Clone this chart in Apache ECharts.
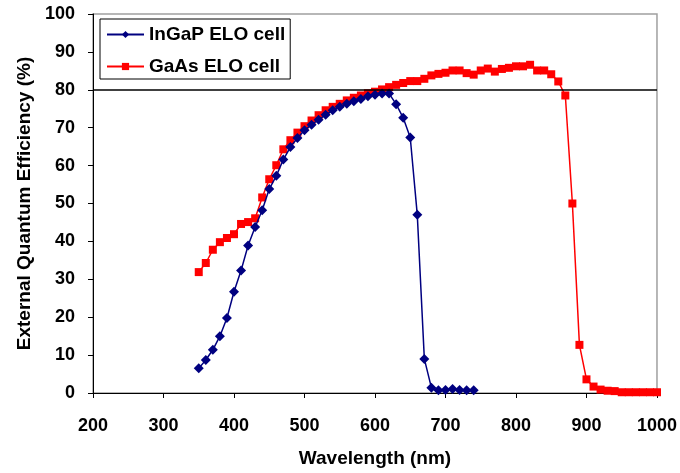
<!DOCTYPE html>
<html>
<head>
<meta charset="utf-8">
<title>EQE of ELO cells</title>
<script src="https://cdn.jsdelivr.net/npm/echarts@6/dist/echarts.min.js"></script>
<style>
  html, body { margin: 0; padding: 0; background: #fff; }
  #chart { width: 680px; height: 473px; }
</style>
</head>
<body>
<div id="chart"></div>
<script>
// wavelength (nm) / EQE (%)
const ingapWl = [350, 360, 370, 380, 390, 400, 410, 420, 430, 440,
  450, 460, 470, 480, 490, 500, 510, 520, 530, 540,
  550, 560, 570, 580, 590, 600, 610, 620, 630, 640,
  650, 660, 670, 680, 690, 700, 710, 720, 730, 740]
const ingapEqe = [6.5, 8.7, 11.4, 15.0, 19.8, 26.7, 32.3, 38.9, 43.8, 48.2,
  53.8, 57.3, 61.6, 64.9, 67.3, 69.3, 70.8, 72.1, 73.4, 74.6,
  75.5, 76.3, 77.0, 77.6, 78.3, 78.7, 79.0, 79.0, 76.2, 72.6,
  67.4, 47.0, 9.0, 1.4, 0.7, 0.8, 1.05, 0.8, 0.7, 0.7]

const gaasWl = [350, 360, 370, 380, 390, 400, 410, 420, 430, 440,
  450, 460, 470, 480, 490, 500, 510, 520, 530, 540,
  550, 560, 570, 580, 590, 600, 610, 620, 630, 640,
  650, 660, 670, 680, 690, 700, 710, 720, 730, 740,
  750, 760, 770, 780, 790, 800, 810, 820, 830, 840,
  850, 860, 870, 880, 890, 900, 910, 920, 930, 940,
  950, 960, 970, 980, 990, 1000]
const gaasEqe = [31.9, 34.3, 37.8, 39.8, 40.9, 41.9, 44.6, 45.1, 46.1, 51.6,
  56.4, 60.1, 64.3, 66.7, 68.7, 70.4, 71.9, 73.3, 74.6, 75.5,
  76.3, 77.2, 77.9, 78.5, 79.1, 79.5, 80.1, 80.7, 81.3, 81.8,
  82.3, 82.3, 82.9, 83.8, 84.2, 84.5, 85.1, 85.1, 84.4, 84.0,
  85.1, 85.6, 84.8, 85.5, 85.8, 86.2, 86.2, 86.6, 85.1, 85.1,
  84.1, 82.2, 78.5, 50.0, 12.7, 3.6, 1.7, 0.9, 0.6, 0.5,
  0.2, 0.2, 0.2, 0.2, 0.2, 0.2]

const refLine = 80

const font = 'Liberation Sans, Arial, sans-serif'

const zip = (xs, ys) => xs.map((x, i) => [x, ys[i]])

const chart = echarts.init(document.getElementById('chart'), null, { renderer: 'canvas' })

chart.setOption({
  animation: false,
  backgroundColor: '#fff',
  grid: {
    left: 93, right: 22, top: 14, bottom: 80,
    show: true, borderColor: '#a0a0a0', borderWidth: 1.5
  },
  legend: {
    left: 100, top: 19,
    orient: 'vertical',
    backgroundColor: '#fff',
    borderColor: '#000', borderWidth: 1,
    borderRadius: 0,
    padding: [6, 5, 3, 6],
    itemWidth: 37, itemHeight: 9, itemGap: 13,
    textStyle: { fontFamily: font, fontWeight: 'bold', fontSize: 19, color: '#000', padding: [0, 0, 0, 0] }
  },
  xAxis: {
    type: 'value', min: 200, max: 1000, interval: 100,
    name: 'Wavelength (nm)', nameLocation: 'middle', nameGap: 56,
    nameTextStyle: { fontFamily: font, fontWeight: 'bold', fontSize: 19, color: '#000' },
    axisLine: { lineStyle: { color: '#000', width: 1 } },
    axisTick: { show: true, length: 5, lineStyle: { color: '#000' } },
    axisLabel: {
      margin: 24, fontFamily: font, fontWeight: 'bold', fontSize: 18, color: '#000',
      formatter: (v) => String(v)
    },
    splitLine: { show: false }
  },
  yAxis: {
    type: 'value', min: 0, max: 100, interval: 10,
    name: 'External Quantum Efficiency (%)', nameLocation: 'middle', nameGap: 59,
    nameTextStyle: { fontFamily: font, fontWeight: 'bold', fontSize: 19, color: '#000' },
    axisLine: { show: true, lineStyle: { color: '#000', width: 1 } },
    axisTick: { show: true, length: 5, lineStyle: { color: '#000' } },
    axisLabel: { margin: 18, fontFamily: font, fontWeight: 'bold', fontSize: 18, color: '#000' },
    splitLine: { show: false }
  },
  series: [
    {
      name: 'InGaP ELO cell',
      type: 'line',
      data: zip(ingapWl, ingapEqe),
      symbol: 'diamond', symbolSize: 10,
      lineStyle: { color: '#000080', width: 1.5 },
      itemStyle: { color: '#000080' },
      z: 3
    },
    {
      name: 'GaAs ELO cell',
      type: 'line',
      data: zip(gaasWl, gaasEqe),
      symbol: 'rect', symbolSize: 8,
      lineStyle: { color: '#ff0000', width: 1.5 },
      itemStyle: { color: '#ff0000' },
      z: 2,
      // 80% 参考线
      markLine: {
        silent: true,
        symbol: 'none',
        label: { show: false },
        lineStyle: { color: '#000', width: 1.5, type: 'solid' },
        data: [{ yAxis: refLine }]
      }
    }
  ]
})
</script>
</body>
</html>
